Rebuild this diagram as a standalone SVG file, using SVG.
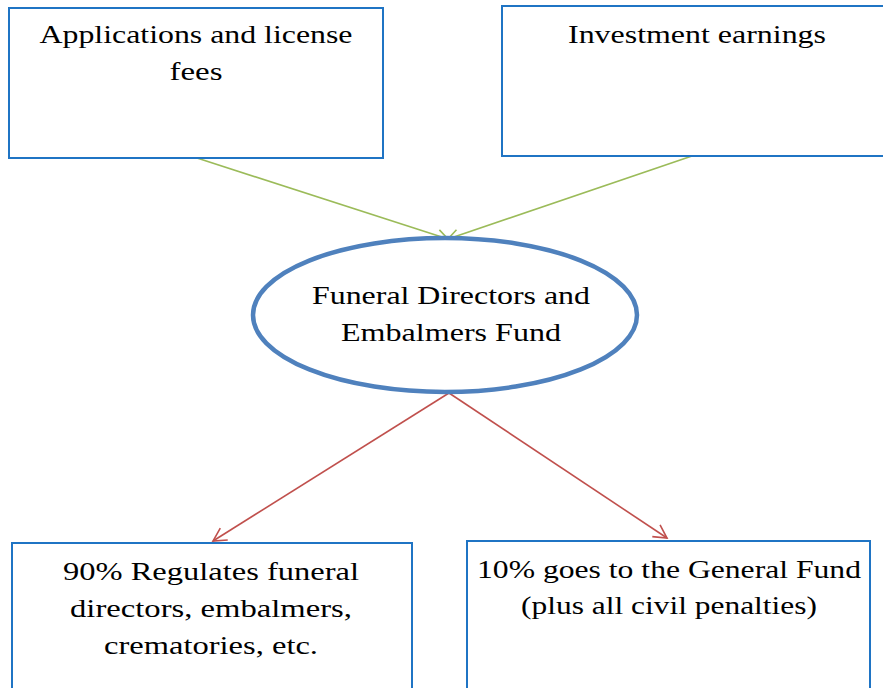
<svg xmlns="http://www.w3.org/2000/svg" width="883" height="688" viewBox="0 0 883 688">
<style>
.box{fill:#fff;stroke:#1F74C4;stroke-width:2}
.t{font-family:'Liberation Serif','DejaVu Serif',serif;font-size:25px;fill:#000;text-anchor:middle}
.g{stroke:#9BBB59;stroke-width:1.6;fill:none}
.r{stroke:#C0504D;stroke-width:1.6;fill:none}
</style>
<defs>
<marker id="ag" markerWidth="14" markerHeight="14" refX="12" refY="7" orient="auto" markerUnits="userSpaceOnUse"><path d="M1,1 L12,7 L1,13" fill="none" stroke="#9BBB59" stroke-width="1.6"/></marker>
<marker id="ar" markerWidth="16" markerHeight="16" refX="14" refY="8" orient="auto" markerUnits="userSpaceOnUse"><path d="M1,1 L14,8 L1,15" fill="none" stroke="#C0504D" stroke-width="1.6"/></marker>
</defs>
<rect width="883" height="688" fill="#fff"/>
<g id="connectors">
<line class="g" x1="197" y1="158" x2="448" y2="239" marker-end="url(#ag)"/>
<line class="g" x1="692" y1="156" x2="448" y2="239" marker-end="url(#ag)"/>
<line class="r" x1="449" y1="393" x2="213" y2="541" marker-end="url(#ar)"/>
<line class="r" x1="449" y1="393" x2="667" y2="538" marker-end="url(#ar)"/>
</g>
<g id="applications">
<rect class="box" x="9" y="8" width="374" height="150"/>
<text class="t" x="196" y="43" textLength="313" lengthAdjust="spacingAndGlyphs">Applications and license</text>
<text class="t" x="196" y="80" textLength="53" lengthAdjust="spacingAndGlyphs">fees</text>
</g>
<g id="investment">
<rect class="box" x="502" y="6" width="390" height="150"/>
<text class="t" x="697" y="43" textLength="258" lengthAdjust="spacingAndGlyphs">Investment earnings</text>
</g>
<g id="fund">
<ellipse cx="445" cy="315" rx="192" ry="77" fill="#fff" stroke="#4F81BD" stroke-width="4.5"/>
<text class="t" x="451" y="304" textLength="278" lengthAdjust="spacingAndGlyphs">Funeral Directors and</text>
<text class="t" x="451" y="341" textLength="220" lengthAdjust="spacingAndGlyphs">Embalmers Fund</text>
</g>
<g id="regulates">
<rect class="box" x="12" y="543" width="400" height="160"/>
<text class="t" x="211" y="580" textLength="296" lengthAdjust="spacingAndGlyphs">90% Regulates funeral</text>
<text class="t" x="211" y="617" textLength="282" lengthAdjust="spacingAndGlyphs">directors, embalmers,</text>
<text class="t" x="211" y="654" textLength="214" lengthAdjust="spacingAndGlyphs">crematories, etc.</text>
</g>
<g id="general">
<rect class="box" x="467" y="541" width="403" height="160"/>
<text class="t" x="669" y="578" textLength="384" lengthAdjust="spacingAndGlyphs">10% goes to the General Fund</text>
<text class="t" x="669" y="614" textLength="296" lengthAdjust="spacingAndGlyphs">(plus all civil penalties)</text>
</g>
</svg>
